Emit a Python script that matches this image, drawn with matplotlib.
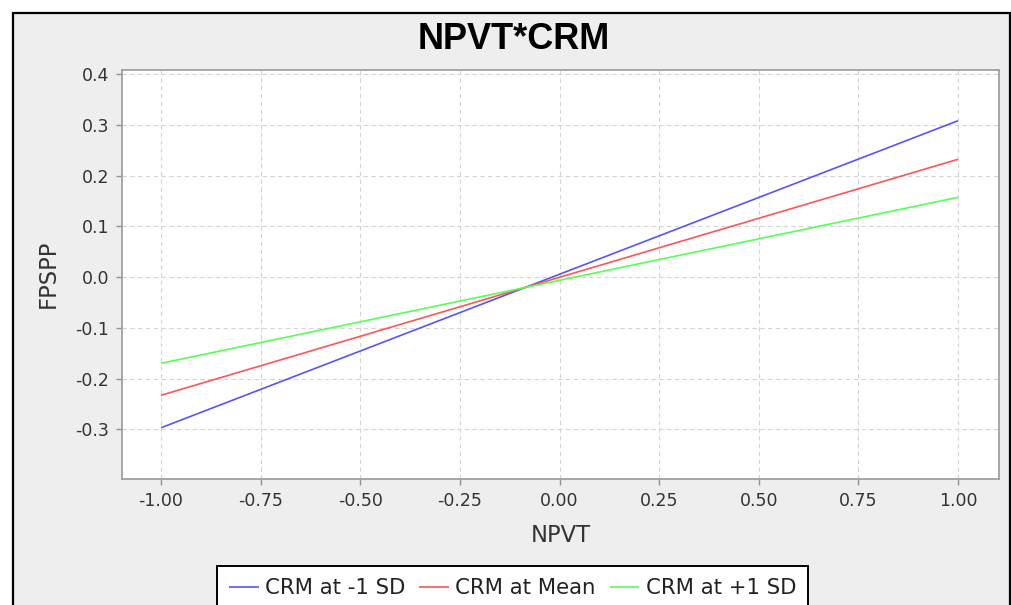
import matplotlib
matplotlib.use("Agg")
import matplotlib.pyplot as plt
from matplotlib.patches import Rectangle
from matplotlib.ticker import FixedLocator, FormatStrFormatter

# Data
npvt = [-1.0, 1.0]
crm_low = [-0.297, 0.308]
crm_mean = [-0.233, 0.232]
crm_high = [-0.170, 0.157]
series_names = ["CRM at -1 SD", "CRM at Mean", "CRM at +1 SD"]
series_colors = ["#5555FF", "#FF5555", "#55FF55"]
x_ticks = [-1.0, -0.75, -0.5, -0.25, 0.0, 0.25, 0.5, 0.75, 1.0]
y_ticks = [-0.3, -0.2, -0.1, 0.0, 0.1, 0.2, 0.3, 0.4]

W, H = 1012, 605
fig = plt.figure(figsize=(W / 100, H / 100), dpi=100)
fig.patch.set_facecolor("white")

def fx(px):
    return px / W

def fy(py):
    return 1 - py / H

# outer panel
fig.patches.append(Rectangle((fx(13), fy(640)), fx(1010) - fx(13), fy(13) - fy(640),
                             transform=fig.transFigure, facecolor="#EEEEEE",
                             edgecolor="black", linewidth=1.6, zorder=-10))

left, right, top, bottom = 122, 999, 70, 479
ax = fig.add_axes([fx(left), fy(bottom), fx(right) - fx(left), fy(top) - fy(bottom)])
ax.set_zorder(1)
ax.set_facecolor("white")

for ys, c, n in zip([crm_low, crm_mean, crm_high], series_colors, series_names):
    ax.plot(npvt, ys, color=c, linewidth=1.2, label=n, solid_capstyle="butt")

ax.set_xlim(-1.098, 1.103)
ax.set_ylim(-0.398, 0.408)
ax.xaxis.set_major_locator(FixedLocator(x_ticks))
ax.yaxis.set_major_locator(FixedLocator(y_ticks))
ax.xaxis.set_major_formatter(FormatStrFormatter("%.2f"))
ax.yaxis.set_major_formatter(FormatStrFormatter("%.1f"))
ax.grid(True, color="#D4D4D4", linestyle=(0, (4, 3)), linewidth=0.8)
ax.set_axisbelow(True)
for s in ax.spines.values():
    s.set_color("#A0A0A0")
    s.set_linewidth(1.3)
ax.tick_params(axis="both", direction="out", length=4, width=1, color="#909090",
               labelsize=12.5, labelcolor="#333333", pad=5)
for lab in ax.get_xticklabels() + ax.get_yticklabels():
    lab.set_family("DejaVu Sans")

fig.text(fx(513.5), fy(49), "NPVT*CRM", ha="center", va="baseline",
         fontsize=26, fontweight="bold", family="Liberation Sans", color="black")
fig.text(fx(561), fy(542.5), "NPVT", ha="center", va="baseline",
         fontsize=16.3, family="DejaVu Sans", color="#333333")
fig.text(fx(48.5), fy(273.5), "FPSPP", ha="center", va="center", rotation=90,
         fontsize=16.3, family="DejaVu Sans", color="#333333")

leg = fig.legend(loc="center", bbox_to_anchor=(fx(512.5), fy(588)), ncol=3,
                 frameon=True, fancybox=False, edgecolor="black", facecolor="white",
                 framealpha=1, handlelength=1.4, handletextpad=0.3,
                 columnspacing=0.65, borderpad=0.55,
                 prop={"family": "DejaVu Sans", "size": 15.3})
leg.get_frame().set_linewidth(1.4)
leg.set_zorder(2)
for t in leg.get_texts():
    t.set_color("#222222")

fig.savefig("out.png", dpi=100)
